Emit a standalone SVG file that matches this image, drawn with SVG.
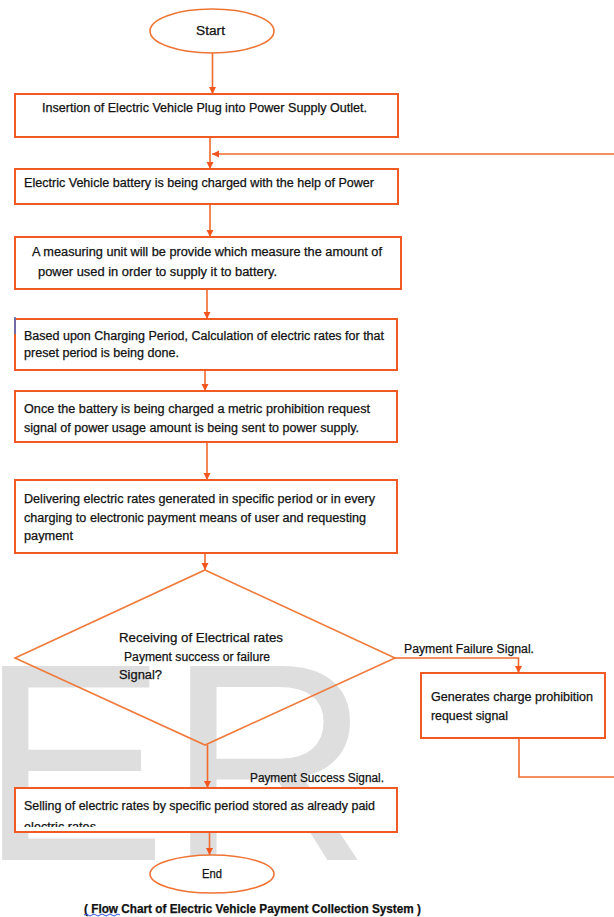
<svg xmlns="http://www.w3.org/2000/svg" width="614" height="917" viewBox="0 0 614 917">
<defs>
<style>
.box{fill:#fff;stroke:#f25a24;stroke-width:2}
.ell{fill:#fff;stroke:#ee7436;stroke-width:1.6}
.dia{fill:none;stroke:#ef7a3a;stroke-width:1.6}
.con{fill:none;stroke:#f26a2c;stroke-width:1.6}
.t{font-family:"Liberation Sans",Arial,sans-serif;font-size:12.5px;fill:#111;stroke:#111;stroke-width:0.25}
.wm{font-family:"Liberation Sans",Arial,sans-serif;font-size:282px;fill:#dedede}
</style>
<marker id="ah" markerUnits="userSpaceOnUse" markerWidth="8" markerHeight="8" refX="7" refY="3.5" orient="auto">
<path d="M0,0 L7,3.5 L0,7 z" fill="#f2551e"/>
</marker>
<clipPath id="clip8"><rect x="15" y="815" width="380" height="12"/></clipPath>
</defs>
<rect x="0" y="0" width="614" height="917" fill="#fff"/>
<text class="wm" x="-21" y="860">ER</text>

<g id="connectors">
<line class="con" x1="212.5" y1="53" x2="212.5" y2="94" marker-end="url(#ah)"/>
<line class="con" x1="210" y1="137" x2="210" y2="169" marker-end="url(#ah)"/>
<line class="con" x1="620" y1="154" x2="212" y2="154" marker-end="url(#ah)"/>
<line class="con" x1="210" y1="204" x2="210" y2="237" marker-end="url(#ah)"/>
<line class="con" x1="207" y1="289" x2="207" y2="319" marker-end="url(#ah)"/>
<line class="con" x1="205" y1="370" x2="205" y2="391" marker-end="url(#ah)"/>
<line class="con" x1="207" y1="442" x2="207" y2="480" marker-end="url(#ah)"/>
<line class="con" x1="205" y1="553" x2="205" y2="570" marker-end="url(#ah)"/>
<path class="con" d="M395,658 H518.5 V673" marker-end="url(#ah)"/>
<line class="con" x1="207.5" y1="745" x2="207.5" y2="788" marker-end="url(#ah)"/>
<path class="con" d="M519,738 V777 H620"/>
<line class="con" x1="209.5" y1="832" x2="209.5" y2="855" marker-end="url(#ah)"/>
<text class="t" x="404" y="653" textLength="130" lengthAdjust="spacingAndGlyphs">Payment Failure Signal.</text>
<text class="t" x="250" y="782" textLength="134" lengthAdjust="spacingAndGlyphs">Payment Success Signal.</text>
</g>

<g id="start">
<ellipse class="ell" cx="212" cy="31" rx="62" ry="22"/>
<text class="t" x="196" y="35" textLength="29" lengthAdjust="spacingAndGlyphs">Start</text>
</g>

<g id="insert">
<rect class="box" x="15" y="94" width="383" height="43"/>
<text class="t" x="42" y="112" textLength="325" lengthAdjust="spacingAndGlyphs">Insertion of Electric Vehicle Plug into Power Supply Outlet.</text>
</g>

<g id="charge">
<rect class="box" x="15" y="169" width="383" height="35"/>
<text class="t" x="24" y="187" textLength="350" lengthAdjust="spacingAndGlyphs">Electric Vehicle battery is being charged with the help of Power</text>
</g>

<g id="measure">
<rect class="box" x="15" y="237" width="386" height="52"/>
<text class="t" x="32" y="256" textLength="350" lengthAdjust="spacingAndGlyphs">A measuring unit will be provide which measure the amount of</text>
<text class="t" x="38" y="276" textLength="239" lengthAdjust="spacingAndGlyphs">power used in order to supply it to battery.</text>
</g>

<g id="calc">
<rect class="box" x="15" y="319" width="382" height="51"/>
<line x1="15" y1="317" x2="15" y2="334" stroke="#4a6fd0" stroke-width="1.5"/>
<text class="t" x="24" y="340" textLength="360" lengthAdjust="spacingAndGlyphs">Based upon Charging Period, Calculation of electric rates for that</text>
<text class="t" x="24" y="357" textLength="155" lengthAdjust="spacingAndGlyphs">preset period is being done.</text>
</g>

<g id="signal">
<rect class="box" x="15" y="391" width="382" height="51"/>
<text class="t" x="24" y="413" textLength="346" lengthAdjust="spacingAndGlyphs">Once the battery is being charged a metric prohibition request</text>
<text class="t" x="24" y="432" textLength="335" lengthAdjust="spacingAndGlyphs">signal of power usage amount is being sent to power supply.</text>
</g>

<g id="deliver">
<rect class="box" x="15" y="480" width="382" height="73"/>
<text class="t" x="24" y="503" textLength="351" lengthAdjust="spacingAndGlyphs">Delivering electric rates generated in specific period or in every</text>
<text class="t" x="24" y="522" textLength="342" lengthAdjust="spacingAndGlyphs">charging to electronic payment means of user and requesting</text>
<text class="t" x="24" y="540" textLength="49" lengthAdjust="spacingAndGlyphs">payment</text>
</g>

<g id="decision">
<polygon class="dia" points="205,570 395,658 205,745 15,658"/>
<text class="t" x="119" y="642" textLength="164" lengthAdjust="spacingAndGlyphs">Receiving of Electrical rates</text>
<text class="t" x="124" y="661" textLength="146" lengthAdjust="spacingAndGlyphs">Payment success or failure</text>
<text class="t" x="119" y="679" textLength="43" lengthAdjust="spacingAndGlyphs">Signal?</text>
</g>

<g id="prohibit">
<rect class="box" x="421" y="673" width="184" height="65"/>
<text class="t" x="431" y="701" textLength="162" lengthAdjust="spacingAndGlyphs">Generates charge prohibition</text>
<text class="t" x="431" y="720" textLength="77" lengthAdjust="spacingAndGlyphs">request signal</text>
</g>

<g id="sell">
<rect class="box" x="15" y="788" width="382" height="44"/>
<text class="t" x="24" y="810" textLength="351" lengthAdjust="spacingAndGlyphs">Selling of electric rates by specific period stored as already paid</text>
<text class="t" x="24" y="831" textLength="72" lengthAdjust="spacingAndGlyphs" clip-path="url(#clip8)">electric rates</text>
</g>

<g id="end">
<ellipse class="ell" cx="212" cy="874" rx="62" ry="19"/>
<text class="t" x="202" y="878" textLength="20" lengthAdjust="spacingAndGlyphs">End</text>
</g>

<g id="caption">
<text class="t" x="84" y="913" font-weight="bold" textLength="337" lengthAdjust="spacingAndGlyphs">( Flow Chart of Electric Vehicle Payment Collection System )</text>
<path d="M84,915 q2,-2 4,0 t4,0 t4,0 t4,0 t4,0 t4,0 t4,0 t4,0 t4,0" fill="none" stroke="#3050e0" stroke-width="1"/>
</g>
</svg>
